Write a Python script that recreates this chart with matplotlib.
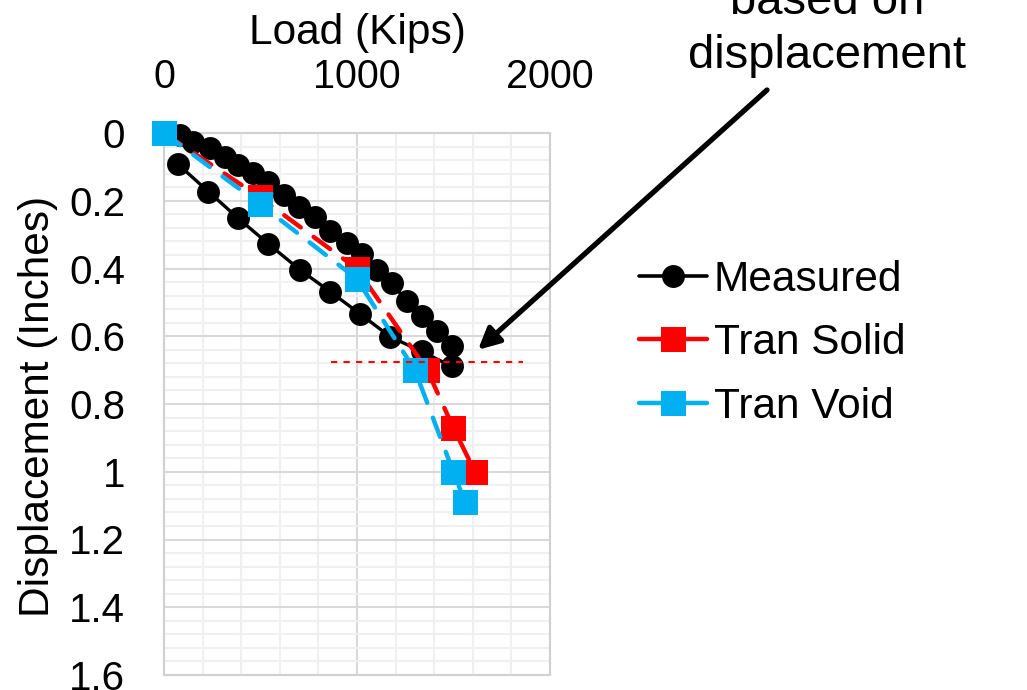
import matplotlib
matplotlib.use("Agg")
import matplotlib.pyplot as plt
from matplotlib.lines import Line2D
from matplotlib.ticker import MultipleLocator, FuncFormatter

plt.rcParams['font.family'] = ['Liberation Sans', 'DejaVu Sans']

# ---- data ----
load_measured = [0, 83, 152, 238, 316, 385, 461, 541, 622, 702, 782, 860, 947, 1024,
                 1102, 1180, 1258, 1335, 1413, 1492, 1491,
                 1335, 1171, 1016, 860, 705, 540, 385, 230, 70]
disp_measured = [0, 0.006, 0.026, 0.045, 0.070, 0.094, 0.119, 0.144, 0.183, 0.217, 0.248,
                 0.289, 0.325, 0.357, 0.404, 0.443, 0.496, 0.540, 0.584, 0.630, 0.689,
                 0.645, 0.601, 0.534, 0.468, 0.404, 0.327, 0.252, 0.173, 0.091]

load_solid = [0, 497, 998, 1364, 1499, 1611]
disp_solid = [0, 0.19, 0.40, 0.70, 0.87, 1.00]

load_void = [0, 497, 998, 1300, 1499, 1560]
disp_void = [0, 0.21, 0.43, 0.70, 1.00, 1.09]

ref_load = [864, 1860]
ref_disp = [0.675, 0.675]

series_names = ["Measured", "Tran Solid", "Tran Void"]
x_ticks = [0, 1000, 2000]

BLACK = "#000000"
RED = "#FF0000"
BLUE = "#00B0F0"

W, H = 1027, 690
fig = plt.figure(figsize=(W / 100, H / 100), dpi=100)
ax = fig.add_axes([164 / W, 1 - 675 / H, (550 - 164) / W, (675 - 133) / H])

ax.set_xlim(0, 2000)
ax.set_ylim(1.6, 0)

ax.xaxis.set_major_locator(MultipleLocator(1000))
ax.xaxis.set_minor_locator(MultipleLocator(200))
ax.yaxis.set_major_locator(MultipleLocator(0.2))
ax.yaxis.set_minor_locator(MultipleLocator(0.04))
ax.xaxis.tick_top()
ax.set_xticks(x_ticks)
ax.yaxis.set_major_formatter(FuncFormatter(lambda v, p: f"{v:g}"))

ax.tick_params(axis='x', which='both', length=0, pad=27, labelsize=28.5)
ax.tick_params(axis='y', which='both', length=0, pad=28, labelsize=29)

ax.grid(which='major', color='#D9D9D9', lw=1.5, zorder=0)
ax.grid(which='minor', color='#F0F0F0', lw=1.5, zorder=0)
ax.set_axisbelow(True)
for s in ax.spines.values():
    s.set_color('#D0D0D0')
    s.set_linewidth(1.5)

ax.plot(load_measured, disp_measured, color=BLACK, lw=2.4, marker='o',
        markersize=16.5, markeredgewidth=0, zorder=3, clip_on=False)
ax.plot(load_solid, disp_solid, color=RED, lw=3.2, dashes=(4.6, 3.6),
        dash_capstyle='round', marker='s', markersize=18, markeredgewidth=0,
        zorder=4, clip_on=False)
ax.plot(load_void, disp_void, color=BLUE, lw=3.2, dashes=(4.6, 3.6),
        dash_capstyle='round', marker='s', markersize=18, markeredgewidth=0,
        zorder=5, clip_on=False)
ax.plot(ref_load, ref_disp, color=RED, lw=1.5, dashes=(3, 3), zorder=6,
        clip_on=False)

# legend
handles = [
    Line2D([], [], color=BLACK, lw=2.6, marker='o', markersize=16.5, markeredgewidth=0,
           solid_capstyle='round'),
    Line2D([], [], color=RED, lw=3.2, marker='s', markersize=18, markeredgewidth=0,
           solid_capstyle='round'),
    Line2D([], [], color=BLUE, lw=3.2, marker='s', markersize=18, markeredgewidth=0,
           solid_capstyle='round'),
]
fig.legend(handles, series_names, loc='upper left',
           bbox_to_anchor=(639 / W, 1 - 260 / H), frameon=False, fontsize=30.5,
           borderpad=0, handlelength=1.6, handletextpad=0.17, labelspacing=0.55,
           borderaxespad=0)

# axis titles
fig.text(357 / W, 1 - 44 / H, "Load (Kips)", ha='center', va='baseline', fontsize=30.5)
fig.text(38 / W, 1 - 406 / H, "Displacement (Inches)", ha='center', va='center',
         rotation=90, fontsize=30.5)

# annotation
fig.text(827 / W, 1 - 68 / H, "based on\ndisplacement", ha='center', va='baseline',
         fontsize=34, linespacing=1.3)
ax.annotate("", xy=(1627, 0.64), xycoords='data',
            xytext=(767 / W, 1 - 90 / H), textcoords='figure fraction',
            arrowprops=dict(arrowstyle='-|>', lw=3.8, color=BLACK,
                            mutation_scale=32, shrinkA=0, shrinkB=0),
            annotation_clip=False)

fig.savefig("out.png", dpi=100)
